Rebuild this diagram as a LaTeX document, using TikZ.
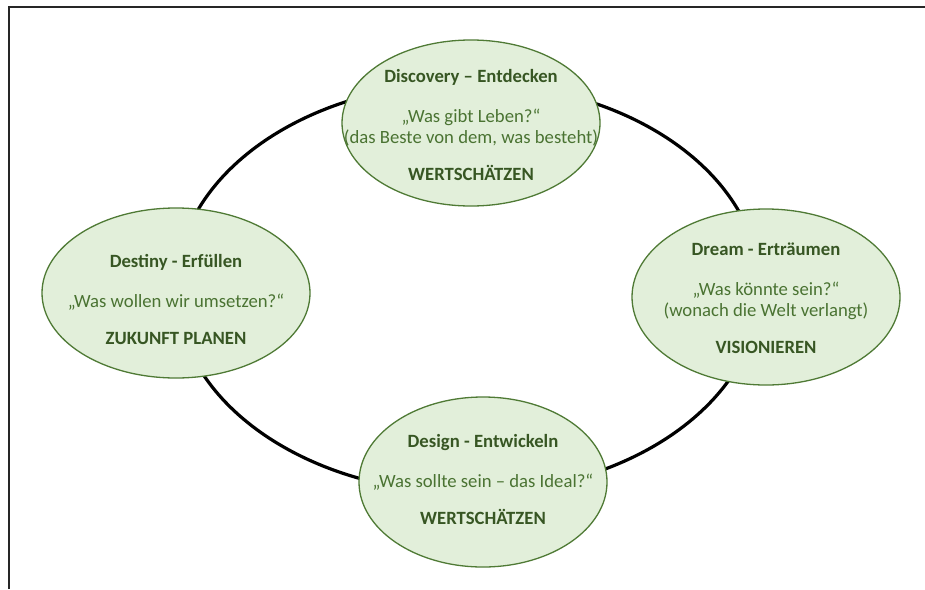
\documentclass[tikz,border=0pt]{standalone}
\usepackage{fontspec}
\setmainfont{Carlito}
\usetikzlibrary{shapes.geometric}
\definecolor{phasefill}{HTML}{E2EFDA}
\definecolor{phaseedge}{HTML}{4F7A35}
\definecolor{titlegreen}{HTML}{375623}
\definecolor{textgreen}{HTML}{4A7332}
\tikzset{
  phase/.style={ellipse, draw=phaseedge, line width=1.3pt, fill=phasefill, inner sep=0pt},
  phasetext/.style={align=center, text=textgreen, font=\fontsize{18.7}{21}\selectfont, inner sep=0pt},
  ring/.style={line width=3.2pt, black},
  frame/.style={line width=2pt, black!85}
}
\newcommand{\phasetitle}[1]{{\bfseries\color{titlegreen}#1}}
\begin{document}
\begin{tikzpicture}[x=1pt, y=-1pt]
  \useasboundingbox (0,0) rectangle (925,589);
  % page frame
  \coordinate (fl) at (9,589);
  \coordinate (fc) at (9,7);
  \coordinate (fr) at (925,7);
  \draw[frame] (fl) -- (fc) -- (fr);
  % cycle ring behind the four phases
  \coordinate (ringc) at (468,288);
  \draw[ring] (ringc) ellipse [x radius=292, y radius=205];
  % the four phases
  \node[phase, minimum width=258pt, minimum height=166pt] (disc) at (471,123) {};
  \node[phase, minimum width=268pt, minimum height=176pt] (dream) at (766,297) {};
  \node[phase, minimum width=248pt, minimum height=170pt] (design) at (483,482) {};
  \node[phase, minimum width=268pt, minimum height=170pt] (dest) at (176,293) {};
  % texts
  \node[phasetext] (disct) at ([yshift=-2pt]disc.center)
    {\phasetitle{Discovery – Entdecken}\\[19pt]
     „Was gibt Leben?“\\
     (das Beste von dem, was besteht)\\[16pt]
     \phasetitle{WERTSCHÄTZEN}};
  \node[phasetext] (dreamt) at ([yshift=-1pt]dream.center)
    {\phasetitle{Dream - Erträumen}\\[19pt]
     „Was könnte sein?“\\
     (wonach die Welt verlangt)\\[16pt]
     \phasetitle{VISIONIEREN}};
  \node[phasetext] (designt) at ([yshift=2.5pt]design.center)
    {\phasetitle{Design - Entwickeln}\\[19pt]
     „Was sollte sein – das Ideal?“\\[16pt]
     \phasetitle{WERTSCHÄTZEN}};
  \node[phasetext] (destt) at ([yshift=-6pt]dest.center)
    {\phasetitle{Destiny - Erfüllen}\\[19pt]
     „Was wollen wir umsetzen?“\\[16pt]
     \phasetitle{ZUKUNFT PLANEN}};
\end{tikzpicture}
\end{document}
